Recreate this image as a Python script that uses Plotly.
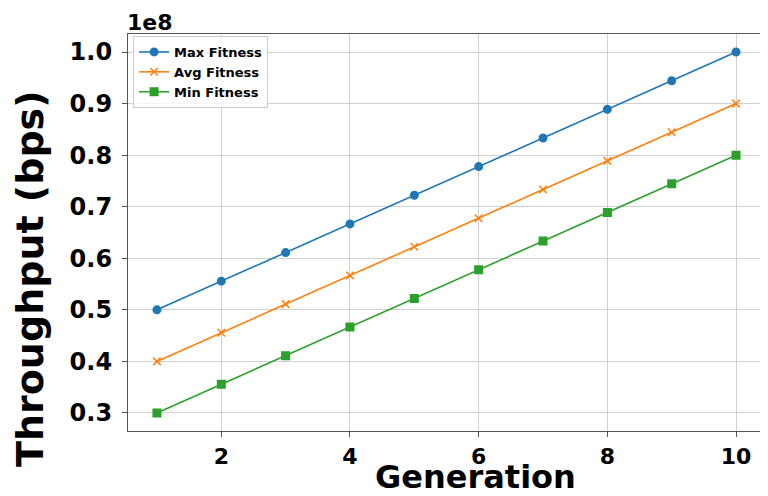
import plotly.graph_objects as go

generations = [1, 2, 3, 4, 5, 6, 7, 8, 9, 10]
max_fitness = [5.0e7, 5.556e7, 6.111e7, 6.667e7, 7.222e7, 7.778e7, 8.333e7, 8.889e7, 9.444e7, 1.0e8]
avg_fitness = [4.0e7, 4.556e7, 5.111e7, 5.667e7, 6.222e7, 6.778e7, 7.333e7, 7.889e7, 8.444e7, 9.0e7]
min_fitness = [3.0e7, 3.556e7, 4.111e7, 4.667e7, 5.222e7, 5.778e7, 6.333e7, 6.889e7, 7.444e7, 8.0e7]
y_tick_vals = [3e7, 4e7, 5e7, 6e7, 7e7, 8e7, 9e7, 1e8]
y_tick_text = ["0.3", "0.4", "0.5", "0.6", "0.7", "0.8", "0.9", "1.0"]
x_tick_vals = [2, 4, 6, 8, 10]

FONT = "DejaVu Sans"

fig = go.Figure()
series = [
    ("Max Fitness", max_fitness, "#1f77b4", "circle"),
    ("Avg Fitness", avg_fitness, "#ff7f0e", "x-thin-open"),
    ("Min Fitness", min_fitness, "#2ca02c", "square"),
]
for name, vals, color, sym in series:
    fig.add_trace(go.Scatter(
        x=generations, y=vals, name=name, mode="lines+markers",
        line=dict(color=color, width=1.6),
        marker=dict(symbol=sym, size=7.5, color=color,
                    line=dict(color=color, width=1.5)),
    ))

fig.update_layout(
    width=760, height=488,
    margin=dict(l=120, r=3, t=26, b=65),
    paper_bgcolor="white", plot_bgcolor="white",
    font=dict(family=FONT, color="black"),
    showlegend=True,
    legend=dict(
        x=0.008, y=0.995, xanchor="left", yanchor="top",
        bgcolor="rgba(255,255,255,0.8)", bordercolor="#cccccc", borderwidth=1,
        font=dict(family=FONT, size=13, color="black", weight="bold"),
        itemwidth=30, tracegroupgap=0,
    ),
    xaxis=dict(
        range=[0.55, 10.45], tickvals=x_tick_vals, automargin=False,
        tickfont=dict(size=22, family=FONT, weight="bold"),
        showgrid=True, gridcolor="#d0d0d0", gridwidth=1,
        showline=True, linecolor="#555555", linewidth=1.2, mirror=True,
        ticks="outside", ticklen=5, tickcolor="#555555", zeroline=False,
    ),
    yaxis=dict(
        range=[2.65e7, 1.035e8], tickvals=y_tick_vals, ticktext=y_tick_text,
        automargin=False, ticklabelstandoff=5,
        tickfont=dict(size=24, family=FONT, weight="bold"),
        showgrid=True, gridcolor="#d0d0d0", gridwidth=1,
        showline=True, linecolor="#555555", linewidth=1.2, mirror=True,
        ticks="outside", ticklen=5, tickcolor="#555555", zeroline=False,
    ),
)
fig.add_annotation(
    text="1e8", xref="paper", yref="paper", x=0, y=1, xanchor="left", yanchor="bottom",
    xshift=-2, yshift=-2, borderpad=0, showarrow=False,
    font=dict(size=22, family=FONT, weight="bold", color="black"),
)
fig.add_annotation(
    text="Throughput (bps)", xref="paper", yref="paper", x=0, y=0.383,
    xanchor="center", yanchor="middle", xshift=-98, textangle=-90,
    borderpad=0, showarrow=False,
    font=dict(size=38, family=FONT, weight="bold", color="black"),
)
fig.add_annotation(
    text="Generation", xref="paper", yref="paper", x=0.545, y=0,
    xanchor="center", yanchor="middle", yshift=-46, borderpad=0, showarrow=False,
    font=dict(size=32, family=FONT, weight="bold", color="black"),
)

fig.write_html("out.html")
